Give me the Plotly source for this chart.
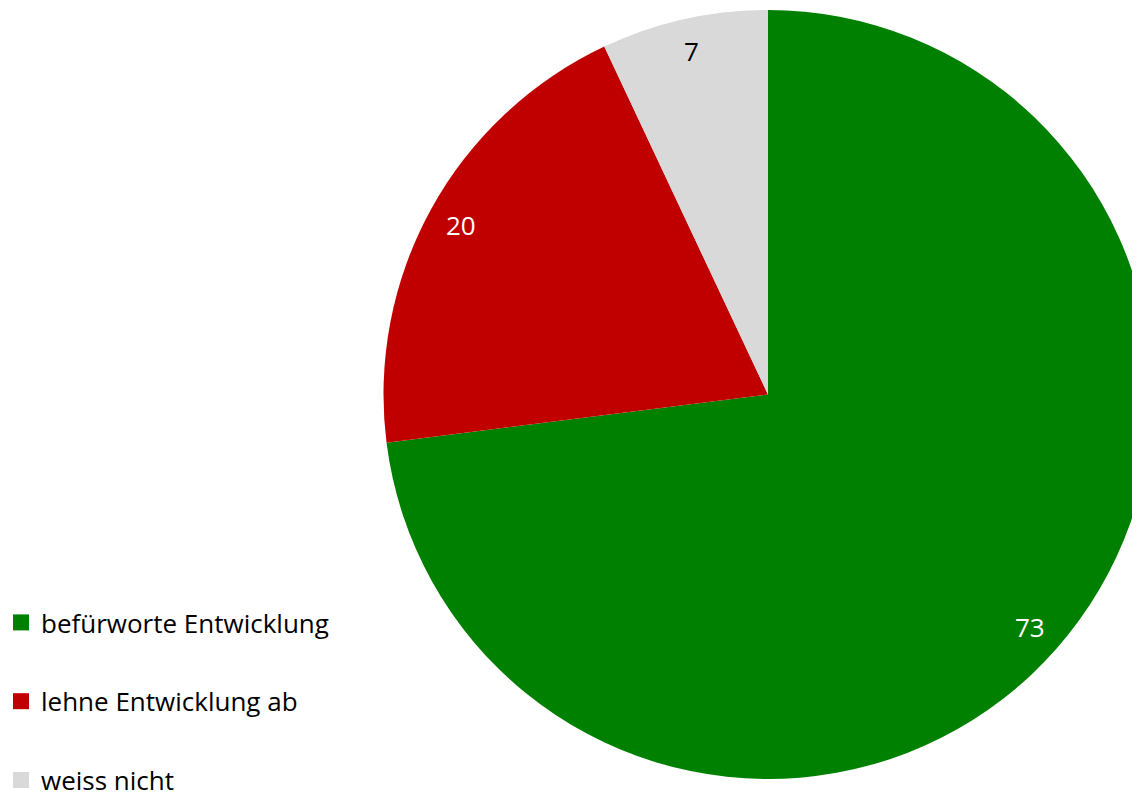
import math
import plotly.graph_objects as go

categories = ["befürworte Entwicklung", "lehne Entwicklung ab", "weiss nicht"]
values = [73, 20, 7]
colors = ["#008000", "#C00000", "#D9D9D9"]
label_colors = ["white", "white", "black"]

# figure is offset by the 8px page margin; it is wider than the window so the
# pie is cut at the right edge like the reference
W, H = 1152, 787
cx, cy, R = 760, 386.5, 384.5

fig = go.Figure()
fig.add_trace(go.Pie(
    labels=categories, values=values, sort=False, direction="clockwise", rotation=0,
    marker=dict(colors=colors, line=dict(width=0)),
    textinfo="none", hoverinfo="label+value", showlegend=False,
    domain=dict(x=[(cx - R) / W, min(1, (cx + R) / W)],
                y=[max(0, (H - cy - R) / H), min(1, (H - cy + R) / H)]),
))

# legend entries
for i, (cat, col) in enumerate(zip(categories, colors)):
    fig.add_trace(go.Scatter(
        x=[None], y=[None], mode="markers", name=cat, legendgroup=f"g{i}",
        marker=dict(symbol="square", size=17, color=col),
    ))

# data labels near the rim along the slice middle angles
total = sum(values)
acc = 0
for v, lc in zip(values, label_colors):
    mid = (acc + v / 2) / total * 2 * math.pi
    acc += v
    px = cx + 0.91 * R * math.sin(mid)
    py = cy - 0.915 * R * math.cos(mid)
    fig.add_annotation(x=px / W, y=1 - py / H, xref="paper", yref="paper",
                       xanchor="center", yanchor="middle",
                       text=str(v), showarrow=False,
                       font=dict(size=26, color=lc, family="Open Sans"))

fig.update_layout(
    width=W, height=H, margin=dict(l=0, r=0, t=0, b=0, autoexpand=False),
    paper_bgcolor="white", plot_bgcolor="white",
    xaxis=dict(visible=False), yaxis=dict(visible=False),
    font=dict(family="Open Sans", size=26, color="black"),
    legend=dict(x=-7 / W, xanchor="left", y=1 - 591 / H, yanchor="top",
                tracegroupgap=42, font=dict(size=26), itemsizing="trace",
                bgcolor="rgba(0,0,0,0)"),
)
fig.write_html("out.html")
